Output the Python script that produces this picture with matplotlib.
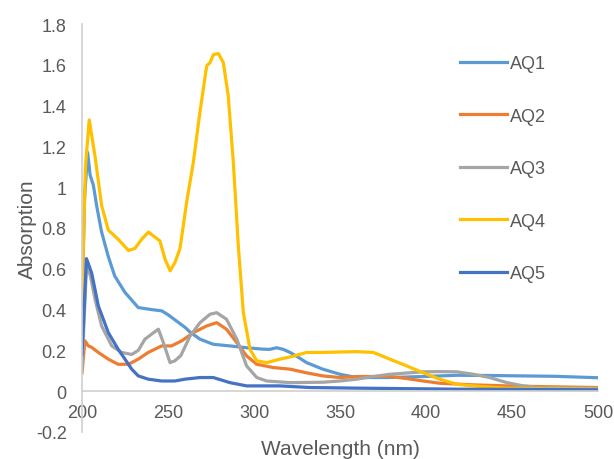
import matplotlib

matplotlib.use("Agg")
import matplotlib.pyplot as plt

aq1_x = [200, 201.5, 203.3, 204.7, 206.6, 208.5, 211.4, 215.3, 219, 225, 232.7, 240.5, 246.3, 250, 254,
         259.9, 262.8, 268.6, 276.3, 286, 295.7, 305.4, 309, 313.2, 317, 321, 326, 330.6, 340, 350,
         359.7, 379, 398.4, 418, 437, 456, 475, 500]
aq1_y = [0.40, 0.95, 1.17, 1.06, 1.01, 0.91, 0.78, 0.66, 0.565, 0.484, 0.41, 0.40, 0.394, 0.375, 0.35,
         0.313, 0.29, 0.255, 0.23, 0.222, 0.213, 0.206, 0.205, 0.213, 0.205, 0.19, 0.165, 0.14, 0.108, 0.083,
         0.067, 0.067, 0.072, 0.078, 0.077, 0.075, 0.073, 0.066]

aq2_x = [200, 201.7, 203.7, 205.6, 209.5, 215.3, 221, 227, 232.7, 238.5, 246.3, 252, 258, 264.7, 272.5,
         278.3, 284, 290, 295.7, 301.6, 311.2, 321, 330.6, 340, 350, 359.7, 379, 388.8, 398.4, 408,
         427.5, 447, 470, 500]
aq2_y = [0.09, 0.247, 0.222, 0.215, 0.19, 0.157, 0.132, 0.132, 0.157, 0.19, 0.222, 0.222, 0.247, 0.287, 0.32,
         0.336, 0.304, 0.238, 0.173, 0.132, 0.116, 0.108, 0.09, 0.075, 0.067, 0.072, 0.072, 0.062, 0.05, 0.039,
         0.031, 0.026, 0.022, 0.018]

aq3_x = [200, 202.7, 205, 207.6, 211.4, 217.3, 223, 228.9, 232.7, 236.6, 240.5, 244.4, 247.3, 251.2, 254,
         257.5, 262.8, 268.6, 274.4, 278.3, 284, 290, 295.7, 301.6, 307.4, 321, 340, 350, 359.7, 369.4,
         379, 398.4, 408, 418, 427.5, 437, 447, 456.6, 466, 500]
aq3_y = [0.11, 0.63, 0.56, 0.45, 0.32, 0.222, 0.19, 0.18, 0.2, 0.255, 0.28, 0.304, 0.238, 0.14, 0.149,
         0.175, 0.27, 0.336, 0.377, 0.385, 0.353, 0.255, 0.124, 0.067, 0.05, 0.042, 0.044, 0.05, 0.059, 0.072,
         0.083, 0.095, 0.096, 0.095, 0.083, 0.067, 0.042, 0.026, 0.018, 0.015]

aq4_x = [200, 202, 204.2, 207.6, 211.4, 215.3, 221, 227, 230.8, 234.7, 238.6, 242.4, 245.3, 248.3, 251.2,
         254, 257, 260.9, 264.7, 268.6, 272.5, 274.4, 276.4, 279.3, 282.2, 285, 288, 290.9, 293.8, 297.7,
         301.6, 307.4, 315, 322, 330.6, 340, 359.7, 369.4, 379, 388.8, 398.4, 408, 417.8, 427.5, 437,
         447, 470, 500]
aq4_y = [0.45, 1.10, 1.33, 1.15, 0.91, 0.79, 0.745, 0.69, 0.70, 0.745, 0.78, 0.755, 0.737, 0.647, 0.59,
         0.63, 0.70, 0.93, 1.12, 1.37, 1.595, 1.61, 1.65, 1.655, 1.61, 1.45, 1.12, 0.71, 0.385, 0.205,
         0.149, 0.14, 0.157, 0.17, 0.19, 0.19, 0.194, 0.19, 0.157, 0.124, 0.09, 0.059, 0.034, 0.026, 0.02,
         0.015, 0.012, 0.01]

aq5_x = [200, 202.6, 205.6, 209.5, 215.3, 221, 225, 228.9, 232.7, 238.5, 246.3, 254, 259.9, 268.6, 276.3,
         286, 295.7, 315, 332.6, 360, 418, 500]
aq5_y = [0.18, 0.65, 0.58, 0.418, 0.287, 0.206, 0.157, 0.108, 0.075, 0.059, 0.05, 0.05, 0.059, 0.067, 0.067,
         0.042, 0.026, 0.026, 0.018, 0.015, 0.01, 0.007]

labels = ["AQ1", "AQ2", "AQ3", "AQ4", "AQ5"]
colors = ["#5B9BD5", "#ED7D31", "#A5A5A5", "#FFC000", "#4472C4"]
x_ticks = [200, 250, 300, 350, 400, 450, 500]
y_ticks = [-0.2, 0, 0.2, 0.4, 0.6, 0.8, 1, 1.2, 1.4, 1.6, 1.8]

TEXT = "#595959"
AXIS = "#D0D0D0"

plt.rcParams["font.family"] = ["Liberation Sans", "DejaVu Sans"]

fig = plt.figure(figsize=(6.14, 4.6), dpi=100)
ax = fig.add_axes([82 / 614, 1 - 433 / 460, 516 / 614, 408 / 460])

series = [(aq1_x, aq1_y), (aq2_x, aq2_y), (aq3_x, aq3_y), (aq4_x, aq4_y), (aq5_x, aq5_y)]
for (xs, ys), lab, col in zip(series, labels, colors):
    ax.plot(xs, ys, color=col, lw=2.3, label=lab, solid_joinstyle="round")

ax.set_xlim(200, 500)
ax.set_ylim(-0.2, 1.8)
ax.set_xticks(x_ticks)
ax.set_yticks(y_ticks)
ax.set_yticklabels(["-0.2", "0", "0.2", "0.4", "0.6", "0.8", "1", "1.2", "1.4", "1.6", "1.8"])

ax.spines["top"].set_visible(False)
ax.spines["right"].set_visible(False)
ax.spines["bottom"].set_position(("data", 0))
for s in ["left", "bottom"]:
    ax.spines[s].set_color(AXIS)
    ax.spines[s].set_linewidth(1.2)
ax.tick_params(axis="both", length=0, labelsize=13, colors=TEXT)
ax.tick_params(axis="x", pad=9)
ax.tick_params(axis="y", pad=11)

ax.set_xlabel("Wavelength (nm)", fontsize=15, color=TEXT)
ax.set_ylabel("Absorption", fontsize=15, color=TEXT)
ax.xaxis.set_label_coords(0.5, -0.018)
ax.yaxis.set_label_coords(-0.088, 0.5)

ax.legend(loc="upper left", bbox_to_anchor=(460 / 614, 1 - 56 / 460), bbox_transform=fig.transFigure,
          frameon=False, fontsize=13, labelcolor=TEXT, handlelength=2.6, handletextpad=0.15,
          labelspacing=1.97, borderpad=0, borderaxespad=0)

fig.savefig("out.png", dpi=100)
